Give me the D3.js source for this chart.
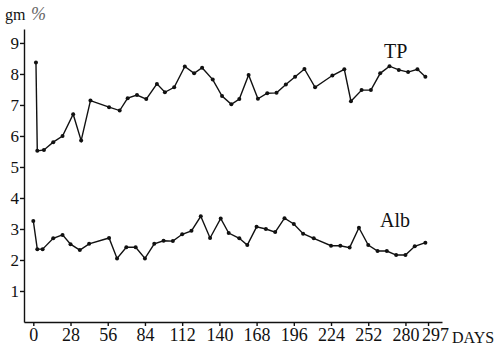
<!DOCTYPE html>
<html>
<head>
<meta charset="utf-8">
<script src="https://cdn.jsdelivr.net/npm/d3@7"></script>
<style>
  body { margin: 0; background: #fff; }
</style>
</head>
<body>
<div id="chart"></div>
<script>
// days and values
const tpDays = [2, 3, 8, 15, 22, 30, 36, 43, 57, 65, 71, 78, 85, 93, 99, 106, 114, 121, 127, 135,
  142, 149, 155, 162, 169, 176, 183, 190, 197, 204, 212, 225, 234, 239, 247, 254, 261, 268, 275, 282, 289, 295];
const tpValues = [8.37, 5.52, 5.55, 5.8, 6.0, 6.7, 5.85, 7.14, 6.93, 6.82, 7.22, 7.32, 7.19, 7.68, 7.41, 7.57,
  8.24, 8.02, 8.2, 7.82, 7.29, 7.02, 7.19, 7.97, 7.2, 7.38, 7.39, 7.66, 7.91, 8.16, 7.57, 7.95, 8.15,
  7.12, 7.48, 7.48, 8.02, 8.25, 8.13, 8.06, 8.15, 7.91];

const albDays = [0, 3, 7, 15, 22, 28, 35, 42, 57, 63, 70, 77, 84, 91, 98, 105, 112, 119, 126, 133,
  141, 147, 155, 161, 168, 175, 182, 189, 196, 203, 211, 224, 231, 238, 245, 252, 259, 266, 273, 280, 287, 295];
const albValues = [3.26, 2.35, 2.35, 2.7, 2.81, 2.51, 2.32, 2.52, 2.71, 2.05, 2.41, 2.41, 2.05, 2.52, 2.62, 2.61,
  2.83, 2.94, 3.41, 2.71, 3.34, 2.87, 2.7, 2.48, 3.07, 3.0, 2.9, 3.35, 3.16, 2.85, 2.7, 2.46, 2.46,
  2.4, 3.04, 2.48, 2.29, 2.29, 2.16, 2.16, 2.44, 2.56];

const xTicks = [0, 28, 56, 84, 112, 140, 168, 196, 224, 252, 280, 297];
const yTicks = [1, 2, 3, 4, 5, 6, 7, 8, 9];

const width = 495, height = 349;
const serif = "'Liberation Serif', 'DejaVu Serif', serif";

const svg = d3.select("#chart")
  .append("svg")
  .attr("width", width)
  .attr("height", height)
  .attr("font-family", serif);

const xScale = d3.scaleLinear().domain([-7, 307.5]).range([24, 442]);
const yScale = d3.scaleLinear().domain([0, 9.45]).range([322, 29]);

// axes
let xAxis = d3.axisBottom(xScale).tickValues(xTicks).tickSize(4).tickSizeOuter(0);
let yAxis = d3.axisLeft(yScale).tickValues(yTicks).tickSize(4).tickSizeOuter(0);

const gx = svg.append("g")
  .attr("transform", `translate(0,${yScale(0)})`)
  .call(xAxis)
  .attr("font-family", serif)
  .attr("font-size", 18);
gx.selectAll("text")
  .attr("fill", "#111")
  .attr("dy", "0.68em")
  .attr("dx", d => d === 297 ? 7 : 0);

const gy = svg.append("g")
  .attr("transform", `translate(${xScale(-7)},0)`)
  .call(yAxis)
  .attr("font-family", serif)
  .attr("font-size", 17);
gy.selectAll("text")
  .attr("fill", "#111")
  .attr("x", -5);

svg.selectAll(".domain, .tick line")
  .attr("stroke", "#111")
  .attr("stroke-width", 1.4);

// axis labels
svg.append("text")
  .attr("x", 5)
  .attr("y", 20)
  .attr("font-size", 16)
  .attr("fill", "#111")
  .text("gm");
svg.append("text")
  .attr("x", 31)
  .attr("y", 20)
  .attr("font-size", 18)
  .attr("font-style", "italic")
  .attr("fill", "#666")
  .text("%");

svg.append("text")
  .attr("x", 452)
  .attr("y", 343)
  .attr("font-size", 16)
  .attr("fill", "#111")
  .text("DAYS");

// series
const series = [
  { name: "TP", days: tpDays, values: tpValues, lx: 384, ly: 58 },
  { name: "Alb", days: albDays, values: albValues, lx: 380, ly: 227 }
];

const line = d3.line()
  .x(d => xScale(d[0]))
  .y(d => yScale(d[1]));

series.forEach(s => {
  const pts = s.days.map((d, i) => [d, s.values[i]]);

  svg.append("path")
    .datum(pts)
    .attr("fill", "none")
    .attr("stroke", "#111")
    .attr("stroke-width", 1.4)
    .attr("d", line);

  svg.append("g")
    .selectAll("circle")
    .data(pts)
    .join("circle")
      .attr("cx", d => xScale(d[0]))
      .attr("cy", d => yScale(d[1]))
      .attr("r", 2)
      .attr("fill", "#111");

  svg.append("text")
    .attr("x", s.lx)
    .attr("y", s.ly)
    .attr("font-size", 20)
    .attr("fill", "#111")
    .text(s.name);
});
</script>
</body>
</html>
